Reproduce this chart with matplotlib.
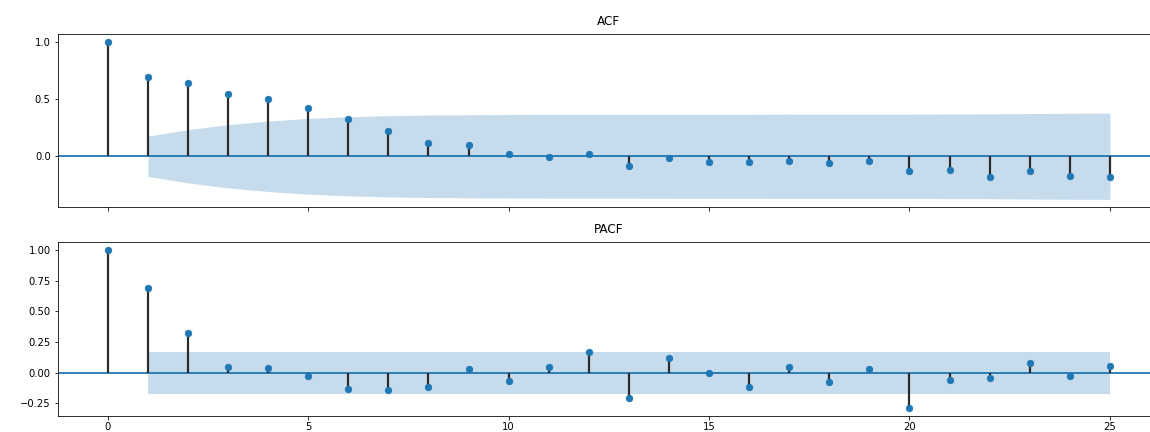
import matplotlib
matplotlib.use("Agg")
import matplotlib.pyplot as plt
import numpy as np

lags = list(range(26))

acf_values = [1.0, 0.688, 0.641, 0.542, 0.499, 0.42, 0.321, 0.219, 0.12, 0.096,
              0.017, -0.003, 0.017, -0.082, -0.015, -0.05, -0.05, -0.038, -0.058,
              -0.038, -0.128, -0.117, -0.184, -0.128, -0.172, -0.184]

# half-width of the ACF confidence band for lags 1..25
acf_band = [0.176, 0.232, 0.276, 0.307, 0.330, 0.345, 0.354, 0.360, 0.362, 0.364,
            0.365, 0.365, 0.365, 0.366, 0.366, 0.366, 0.367, 0.367, 0.367, 0.367,
            0.369, 0.370, 0.373, 0.375, 0.376]

pacf_values = [1.0, 0.689, 0.324, 0.049, 0.038, -0.027, -0.13, -0.14, -0.119, 0.035,
               -0.065, 0.049, 0.17, -0.203, 0.119, -0.003, -0.119, 0.046, -0.076,
               0.027, -0.284, -0.057, -0.046, 0.078, -0.024, 0.057]

# half-width of the PACF confidence band (constant) for lags 1..25
pacf_band = [0.172] * 25

titles = ["ACF", "PACF"]

W, H = 1150, 432
fig = plt.figure(figsize=(W / 72, H / 72), dpi=72)

ax1 = fig.add_axes([57.7 / W, 1 - 207.3 / H, (1160 - 57.7) / W, (207.3 - 33.7) / H])
ax2 = fig.add_axes([57.7 / W, 1 - 415.5 / H, (1160 - 57.7) / W, (415.5 - 242.3) / H],
                   sharex=ax1)

def draw(ax, vals, band, title):
    x = np.array(lags)
    v = np.array(vals)
    b = np.array(band)
    ax.vlines(x, 0, v, colors="#2b2b2b", linewidth=2.2)
    ax.axhline(0, color="C0", linewidth=1.8, zorder=1)
    ax.plot(x, v, "o", color="C0", markersize=6.5, markeredgewidth=0.8, zorder=3)
    ax.fill_between(x[1:], -b, b, color="C0", alpha=0.25, linewidth=0)
    ax.set_title(title, fontsize=12, pad=9)
    ax.tick_params(labelsize=10)
    ax.spines["right"].set_visible(False)

draw(ax1, acf_values, acf_band, titles[0])
draw(ax2, pacf_values, pacf_band, titles[1])

ax1.set_xlim(-1.25, 26.25)
ax1.set_yticks([0.0, 0.5, 1.0])
ax2.set_yticks([-0.25, 0.0, 0.25, 0.5, 0.75, 1.0])
ax2.set_xticks([0, 5, 10, 15, 20, 25])
plt.setp(ax1.get_xticklabels(), visible=False)

fig.savefig("out.png", dpi=72)
